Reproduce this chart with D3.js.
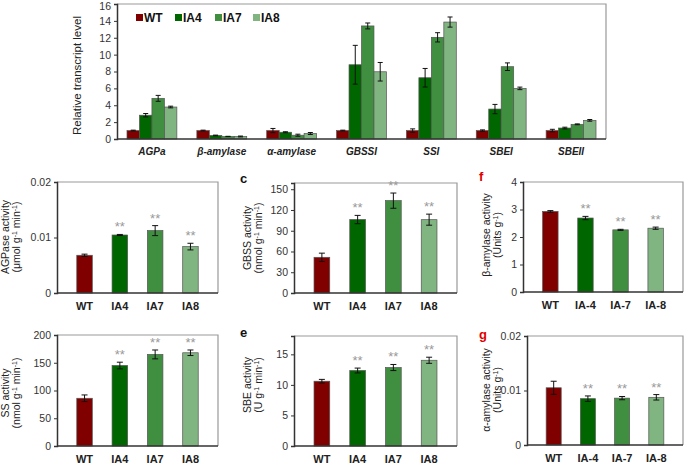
<!DOCTYPE html>
<html><head><meta charset="utf-8">
<script src="https://cdn.jsdelivr.net/npm/d3@7"></script>
<style>body{margin:0;background:#fff}svg{display:block}text{font-family:"Liberation Sans",Arial,sans-serif}</style>
</head><body>
<svg id="c" width="685" height="464"></svg>
<script>
// ---------- data ----------
const genes = ["AGPa","β-amylase","α-amylase","GBSSI","SSI","SBEI","SBEII"];
const lines = ["WT","IA4","IA7","IA8"];
const colors = ["#800000","#006600","#408f40","#80b480"];
const transWT  = [1.0,1.0,1.0,1.0,1.0,1.0,1.0];
const transIA4 = [2.82,0.42,0.80,8.8,7.26,3.55,1.3];
const transIA7 = [4.82,0.30,0.45,13.4,12.05,8.57,1.74];
const transIA8 = [3.79,0.30,0.65,7.97,13.86,6.0,2.21];
const errWT  = [0.05,0.05,0.25,0.05,0.2,0.08,0.15];
const errIA4 = [0.2,0.04,0.06,2.3,1.1,0.55,0.1];
const errIA7 = [0.35,0.02,0.12,0.35,0.55,0.45,0.05];
const errIA8 = [0.1,0.05,0.12,1.1,0.6,0.15,0.1];
const transTicks = [0,2,4,6,8,10,12,14,16];

const xLab1 = ["WT","IA4","IA7","IA8"];
const xLab2 = ["WT","IA-4","IA-7","IA-8"];
const agpVal = [0.0068,0.01045,0.01124,0.00836], agpErr=[0.0002,0.0001,0.0009,0.0006];
const gbssVal = [51.6,106.2,133.5,106.0], gbssErr=[6,6,11,8];
const betaVal = [2.93,2.69,2.26,2.32], betaErr=[0.03,0.06,0.02,0.04];
const ssVal = [86,145,165,168], ssErr=[6,6,8,5];
const sbeVal = [10.6,12.35,12.84,14.03], sbeErr=[0.3,0.4,0.5,0.5];
const alphaVal = [0.0105,0.0085,0.0086,0.00875], alphaErr=[0.0012,0.0005,0.0003,0.0005];
const sig = ["","**","**","**"];

const svg = d3.select("#c");
const axisCol="#333", frameCol="#999", outline="#555";

// ---------- top panel ----------
(function(){
  const L=117,R=606,T=4,B=139;
  const g=svg.append("g");
  const x0=d3.scaleBand().domain(genes).range([L,R]).paddingInner(0.286).paddingOuter(0.143);
  const x1=d3.scaleBand().domain(lines).range([0,x0.bandwidth()]);
  const y=d3.scaleLinear().domain([0,16]).range([B,T]);
  g.append("path").attr("d",`M${L},${T}H${R}V${B}`).attr("fill","none").attr("stroke",frameCol).attr("stroke-width",1.2);
  const vals=[transWT,transIA4,transIA7,transIA8], errs=[errWT,errIA4,errIA7,errIA8];
  genes.forEach((gn,i)=>{
    lines.forEach((ln,j)=>{
      const xx=x0(gn)+x1(ln), w=x1.bandwidth(), v=vals[j][i], e=errs[j][i];
      g.append("rect").attr("x",xx).attr("y",y(v)).attr("width",w).attr("height",y(0)-y(v))
        .attr("fill",colors[j]).attr("stroke",outline).attr("stroke-width",0.7);
      const cx=xx+w/2;
      g.append("path").attr("d",`M${cx},${y(v+e)}V${y(v-e)}M${cx-2.5},${y(v+e)}H${cx+2.5}M${cx-2.5},${y(v-e)}H${cx+2.5}`)
        .attr("stroke","#111").attr("stroke-width",1);
    });
    g.append("text").attr("x",x0(gn)+x0.bandwidth()/2).attr("y",155).attr("text-anchor","middle")
      .attr("font-size",10).attr("font-weight","bold").attr("font-style","italic").attr("fill","#222").text(gn);
  });
  const ya=g.append("g").attr("transform",`translate(${L},0)`).call(d3.axisLeft(y).tickValues(transTicks).tickSize(3).tickFormat(d3.format("d")));
  ya.select(".domain").attr("stroke",axisCol).attr("stroke-width",1.5);
  ya.selectAll("line").attr("stroke",axisCol);
  ya.selectAll("text").attr("font-size",10.5).attr("fill","#333").attr("font-family","Liberation Sans, Arial");
  ya.selectAll(".tick").filter(d=>d===16).select("text").attr("dy","0.55em");
  g.append("line").attr("x1",L).attr("x2",R).attr("y1",B).attr("y2",B).attr("stroke",axisCol).attr("stroke-width",1.5);
  g.append("text").attr("transform",`translate(81,${(T+B)/2+4}) rotate(-90)`).attr("text-anchor","middle")
    .attr("font-size",11.5).attr("fill","#222").text("Relative transcript level");
  const lx=[136,175,215,253];
  lines.forEach((ln,j)=>{
    g.append("rect").attr("x",lx[j]).attr("y",14).attr("width",7).attr("height",7).attr("fill",colors[j]);
    g.append("text").attr("x",lx[j]+8).attr("y",22).attr("font-size",12).attr("font-weight","bold").attr("fill","#111").text(ln);
  });
})();

// ---------- small panels ----------
function panel(o){
  const {L,R,T,B,dom,ticks,fmt,vals,errs,labels,ylab1,ylab2,lx,ly,letter,letterCol,lpos}=o;
  const g=svg.append("g");
  const x=d3.scaleBand().domain(labels).range([L,R]).padding(0.56);
  const y=d3.scaleLinear().domain(dom).range([B,T]);
  g.append("path").attr("d",`M${L},${T}H${R}V${B}`).attr("fill","none").attr("stroke",frameCol).attr("stroke-width",1.2);
  labels.forEach((lb,j)=>{
    const v=vals[j], e=errs[j], xx=x(lb), w=x.bandwidth(), cx=xx+w/2;
    g.append("rect").attr("x",xx).attr("y",y(v)).attr("width",w).attr("height",y(0)-y(v))
      .attr("fill",colors[j]).attr("stroke",outline).attr("stroke-width",0.7);
    g.append("path").attr("d",`M${cx},${y(v+e)}V${y(v-e)}M${cx-3},${y(v+e)}H${cx+3}M${cx-3},${y(v-e)}H${cx+3}`)
      .attr("stroke","#111").attr("stroke-width",1);
    if(sig[j]) g.append("text").attr("x",cx).attr("y",y(v+e)-3).attr("text-anchor","middle")
      .attr("font-size",13).attr("fill","#999").text(sig[j]);
    g.append("text").attr("x",cx).attr("y",B+17).attr("text-anchor","middle").attr("font-size",11)
      .attr("font-weight","bold").attr("fill","#222").text(lb);
  });
  const ya=g.append("g").attr("transform",`translate(${L},0)`).call(d3.axisLeft(y).tickValues(ticks).tickSize(3).tickFormat(fmt));
  ya.select(".domain").attr("stroke",axisCol).attr("stroke-width",1.5);
  ya.selectAll("line").attr("stroke",axisCol);
  ya.selectAll("text").attr("font-size",10.5).attr("fill","#333").attr("font-family","Liberation Sans, Arial");
  g.append("line").attr("x1",L).attr("x2",R).attr("y1",B).attr("y2",B).attr("stroke",axisCol).attr("stroke-width",1.5);
  g.append("text").attr("transform",`translate(${lx},${ly}) rotate(-90)`).attr("text-anchor","middle")
    .attr("font-size",10.5).attr("fill","#222").text(ylab1);
  const t2=g.append("text").attr("transform",`translate(${lx+11},${ly}) rotate(-90)`).attr("text-anchor","middle")
    .attr("font-size",10.5).attr("fill","#222");
  ylab2.forEach(p=>{const s=t2.append("tspan").text(p[0]); if(p[1]) {s.attr("baseline-shift","super").attr("font-size",7);} });
  if(letter) g.append("text").attr("x",lpos[0]).attr("y",lpos[1]).attr("font-size",13).attr("font-weight","bold")
    .attr("fill",letterCol).text(letter);
}
const unitNmol=[["(nmol g"],["-1",1],[" min"],["-1",1],[")"]];
panel({L:57,R:218,T:182,B:293,dom:[0,0.02],ticks:[0,0.01,0.02],fmt:d=>d===0?"0":d3.format(".2~f")(d),
  vals:agpVal,errs:agpErr,labels:xLab1,ylab1:"AGPase activity",ylab2:[["(μmol g"],["-1",1],[" min"],["-1",1],[")"]],lx:9,ly:237});
panel({L:294,R:457,T:183,B:293,dom:[0,159],ticks:[0,30,60,90,120,150],fmt:d3.format("d"),
  vals:gbssVal,errs:gbssErr,labels:xLab1,ylab1:"GBSS activity",ylab2:unitNmol,lx:251,ly:238,letter:"c",letterCol:"#111",lpos:[240,183]});
panel({L:523,R:683,T:182,B:292,dom:[0,4],ticks:[0,1,2,3,4],fmt:d3.format("d"),
  vals:betaVal,errs:betaErr,labels:xLab2,ylab1:"β-amylase activity",ylab2:[["(Units g"],["-1",1],[")"]],lx:490,ly:235,letter:"f",letterCol:"#e00000",lpos:[479,181]});
panel({L:57,R:218,T:335,B:446,dom:[0,200],ticks:[0,50,100,150,200],fmt:d3.format("d"),
  vals:ssVal,errs:ssErr,labels:xLab1,ylab1:"SS activity",ylab2:unitNmol,lx:9,ly:393});
panel({L:294,R:457,T:336,B:446,dom:[0,18],ticks:[0,5,10,15],fmt:d3.format("d"),
  vals:sbeVal,errs:sbeErr,labels:xLab1,ylab1:"SBE activity",ylab2:[["(U g"],["-1",1],[" min"],["-1",1],[")"]],lx:251,ly:385,letter:"e",letterCol:"#111",lpos:[240,337]});
panel({L:527,R:683,T:336,B:445,dom:[0,0.02],ticks:[0,0.01,0.02],fmt:d=>d===0?"0":d3.format(".2~f")(d),
  vals:alphaVal,errs:alphaErr,labels:xLab2,ylab1:"α-amylase activity",ylab2:[["(Units g"],["-1",1],[")"]],lx:490,ly:390,letter:"g",letterCol:"#e00000",lpos:[479,339]});
</script>
</body></html>
